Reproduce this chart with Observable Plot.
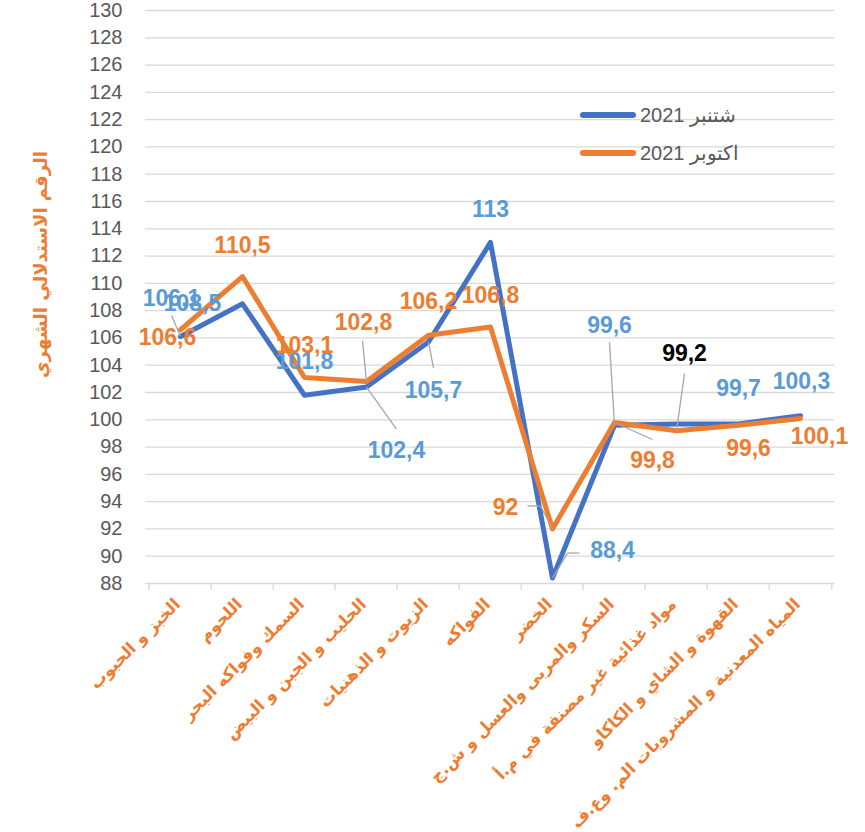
<!DOCTYPE html>
<html>
<head>
<meta charset="utf-8">
<script src="https://cdn.jsdelivr.net/npm/d3@7"></script>
<script src="https://cdn.jsdelivr.net/npm/@observablehq/plot@0.6"></script>
<style>
  html, body { margin: 0; padding: 0; background: #fff; }
  #wrap { position: relative; width: 865px; height: 832px; overflow: hidden; }
  .legend { position: absolute; left: 580px; top: 96px; font-family: "Liberation Sans", Arial, sans-serif; font-size: 20px; color: #595959; }
  .legend .item { display: flex; align-items: center; height: 38px; }
  .legend .sw { display: inline-block; width: 56px; height: 5.5px; border-radius: 3px; margin-right: 4px; }
</style>
</head>
<body>
<div id="wrap">
  <div id="chart"></div>
  <div class="legend" id="legend"></div>
</div>
<script>
// ---- data ----
const categories = [
  "الخبز و الحبوب",
  "اللحوم",
  "السمك وفواكه البحر",
  "الحليب و الجبن و البيض",
  "الزيوت و الذهنيات",
  "الفواكه",
  "الخضر",
  "السكر والمربى والعسل و ش.ج",
  "مواد غذائية غير مصنفة في م.أ",
  "القهوة و الشاي و الكاكاو",
  "المياه المعدنية و المشروبات الم. وع.ف"
];
const sep2021 = [106.1, 108.5, 101.8, 102.4, 105.7, 113, 88.4, 99.6, 99.7, 99.7, 100.3];
const oct2021 = [106.6, 110.5, 103.1, 102.8, 106.2, 106.8, 92, 99.8, 99.2, 99.6, 100.1];
const seriesNames = ["شتنبر 2021", "اكتوبر 2021"];
const yTicks = [88, 90, 92, 94, 96, 98, 100, 102, 104, 106, 108, 110, 112, 114, 116, 118, 120, 122, 124, 126, 128, 130];
const yTitle = "الرقم الاستدلالي الشهري";

// ---- layout / style (label offsets in px relative to data point) ----
const BLUE = "#4472C4", ORANGE = "#ED7D31", LBLUE = "#5B9BD5", GRID = "#D9D9D9", LEAD = "#A6A6A6";
const sepLabelOffsets = [[-9,-38],[-50,0],[0,-34],[30,64],[5,49],[0,-33],[60,-27],[-5,-100],null,[0,-35],[1,-34]];
const octLabelOffsets = [[-13,8],[0,-31],[0,-32],[-3,-59],[0,-34],[0,-31],[-47,-21],[38,38],[8,-77],[10,23],[19,18]];
const octLabelColors = [ORANGE,ORANGE,ORANGE,ORANGE,ORANGE,ORANGE,ORANGE,ORANGE,"#000000",ORANGE,ORANGE];
// leader segments: [series, index, from offset, to offset]
const leaders = [
  ["sep", 0, [0,0], [-9,-21]],
  ["oct", 3, [0,0], [-4,-41]],
  ["sep", 3, [0,0], [30,42]],
  ["sep", 4, [0,0], [5,26]],
  ["oct", 6, [0,0], [-12,-23]],
  ["oct", 6, [-12,-23], [-25,-23]],
  ["sep", 6, [0,0], [15,-25]],
  ["sep", 6, [15,-25], [27,-25]],
  ["sep", 7, [0,0], [-5,-83]],
  ["oct", 7, [0,0], [38,17]],
  ["oct", 8, [0,0], [8,-57]]
];

const W = 865, H = 832, ML = 145, MR = 31, MT = 10, MB = 249;
const step = (W - ML - MR) / categories.length;
const fmt = v => String(v).replace(".", ",");

const sepData = categories.map((c, i) => ({cat: c, v: sep2021[i]}));
const octData = categories.map((c, i) => ({cat: c, v: oct2021[i]}));
const series = {sep: sepData, oct: octData};

const labelMarks = [];
sepData.forEach((d, i) => {
  const o = sepLabelOffsets[i];
  if (!o) return;
  labelMarks.push(Plot.text([d], {x: "cat", y: "v", text: d => fmt(d.v), dx: o[0], dy: o[1],
    fill: LBLUE, fontSize: 23, fontWeight: "bold", fontFamily: "Liberation Sans, Arial, sans-serif"}));
});
octData.forEach((d, i) => {
  const o = octLabelOffsets[i];
  labelMarks.push(Plot.text([d], {x: "cat", y: "v", text: d => fmt(d.v), dx: o[0], dy: o[1],
    fill: octLabelColors[i], fontSize: 23, fontWeight: "bold", fontFamily: "Liberation Sans, Arial, sans-serif"}));
});

const leaderMarks = leaders.map(([s, i, from, to]) => {
  const ox = to[0] - from[0], oy = to[1] - from[1];
  const len = Math.hypot(ox, oy);
  const rot = Math.atan2(ox, -oy) * 180 / Math.PI;
  return Plot.vector([series[s][i]], {x: "cat", y: "v", dx: from[0], dy: from[1], length: len, rotate: rot,
    anchor: "start", r: 0, stroke: LEAD, strokeWidth: 1.3, strokeLinecap: "butt"});
});

const chart = Plot.plot({
  width: W, height: H,
  marginLeft: ML, marginRight: MR, marginTop: MT, marginBottom: MB,
  style: {background: "white", fontFamily: "Liberation Sans, Arial, sans-serif", overflow: "visible"},
  x: {type: "point", domain: categories, padding: 0.5},
  y: {domain: [88, 130]},
  marks: [
    Plot.ruleY(yTicks, {stroke: GRID, strokeWidth: 1.3}),
    Plot.ruleX(categories, {x: d => d, y1: 88, y2: 88, dx: -step / 2, insetBottom: -7, stroke: GRID, strokeWidth: 1.3}),
    Plot.ruleX([categories[categories.length - 1]], {x: d => d, y1: 88, y2: 88, dx: step / 2, insetBottom: -7, stroke: GRID, strokeWidth: 1.3}),
    Plot.axisY({ticks: yTicks, tickSize: 0, tickPadding: 23, fontSize: 20, color: "#595959", label: null,
      fontFamily: "Liberation Sans, Arial, sans-serif"}),
    Plot.axisX({tickSize: 0, tickRotate: -45, tickPadding: 18, dx: -3, fontSize: 16.5, fontWeight: "bold", color: ORANGE,
      label: null, fontFamily: "DejaVu Sans, sans-serif"}),
    Plot.line(sepData, {x: "cat", y: "v", stroke: BLUE, strokeWidth: 5}),
    Plot.line(octData, {x: "cat", y: "v", stroke: ORANGE, strokeWidth: 5}),
    ...leaderMarks,
    ...labelMarks,
    Plot.text([yTitle], {frameAnchor: "left", textAnchor: "middle", lineAnchor: "middle", text: d => d, rotate: -90,
      dx: 41 - ML, dy: 264 - (MT + H - MB) / 2,
      fill: ORANGE, fontSize: 18, fontWeight: "bold", fontFamily: "DejaVu Sans, sans-serif"})
  ]
});
document.getElementById("chart").appendChild(chart);

const legend = document.getElementById("legend");
[[seriesNames[0], BLUE], [seriesNames[1], ORANGE]].forEach(([name, col]) => {
  const item = document.createElement("div");
  item.className = "item";
  const sw = document.createElement("span");
  sw.className = "sw";
  sw.style.background = col;
  const t = document.createElement("span");
  t.textContent = name;
  item.appendChild(sw);
  item.appendChild(t);
  legend.appendChild(item);
});
</script>
</body>
</html>
